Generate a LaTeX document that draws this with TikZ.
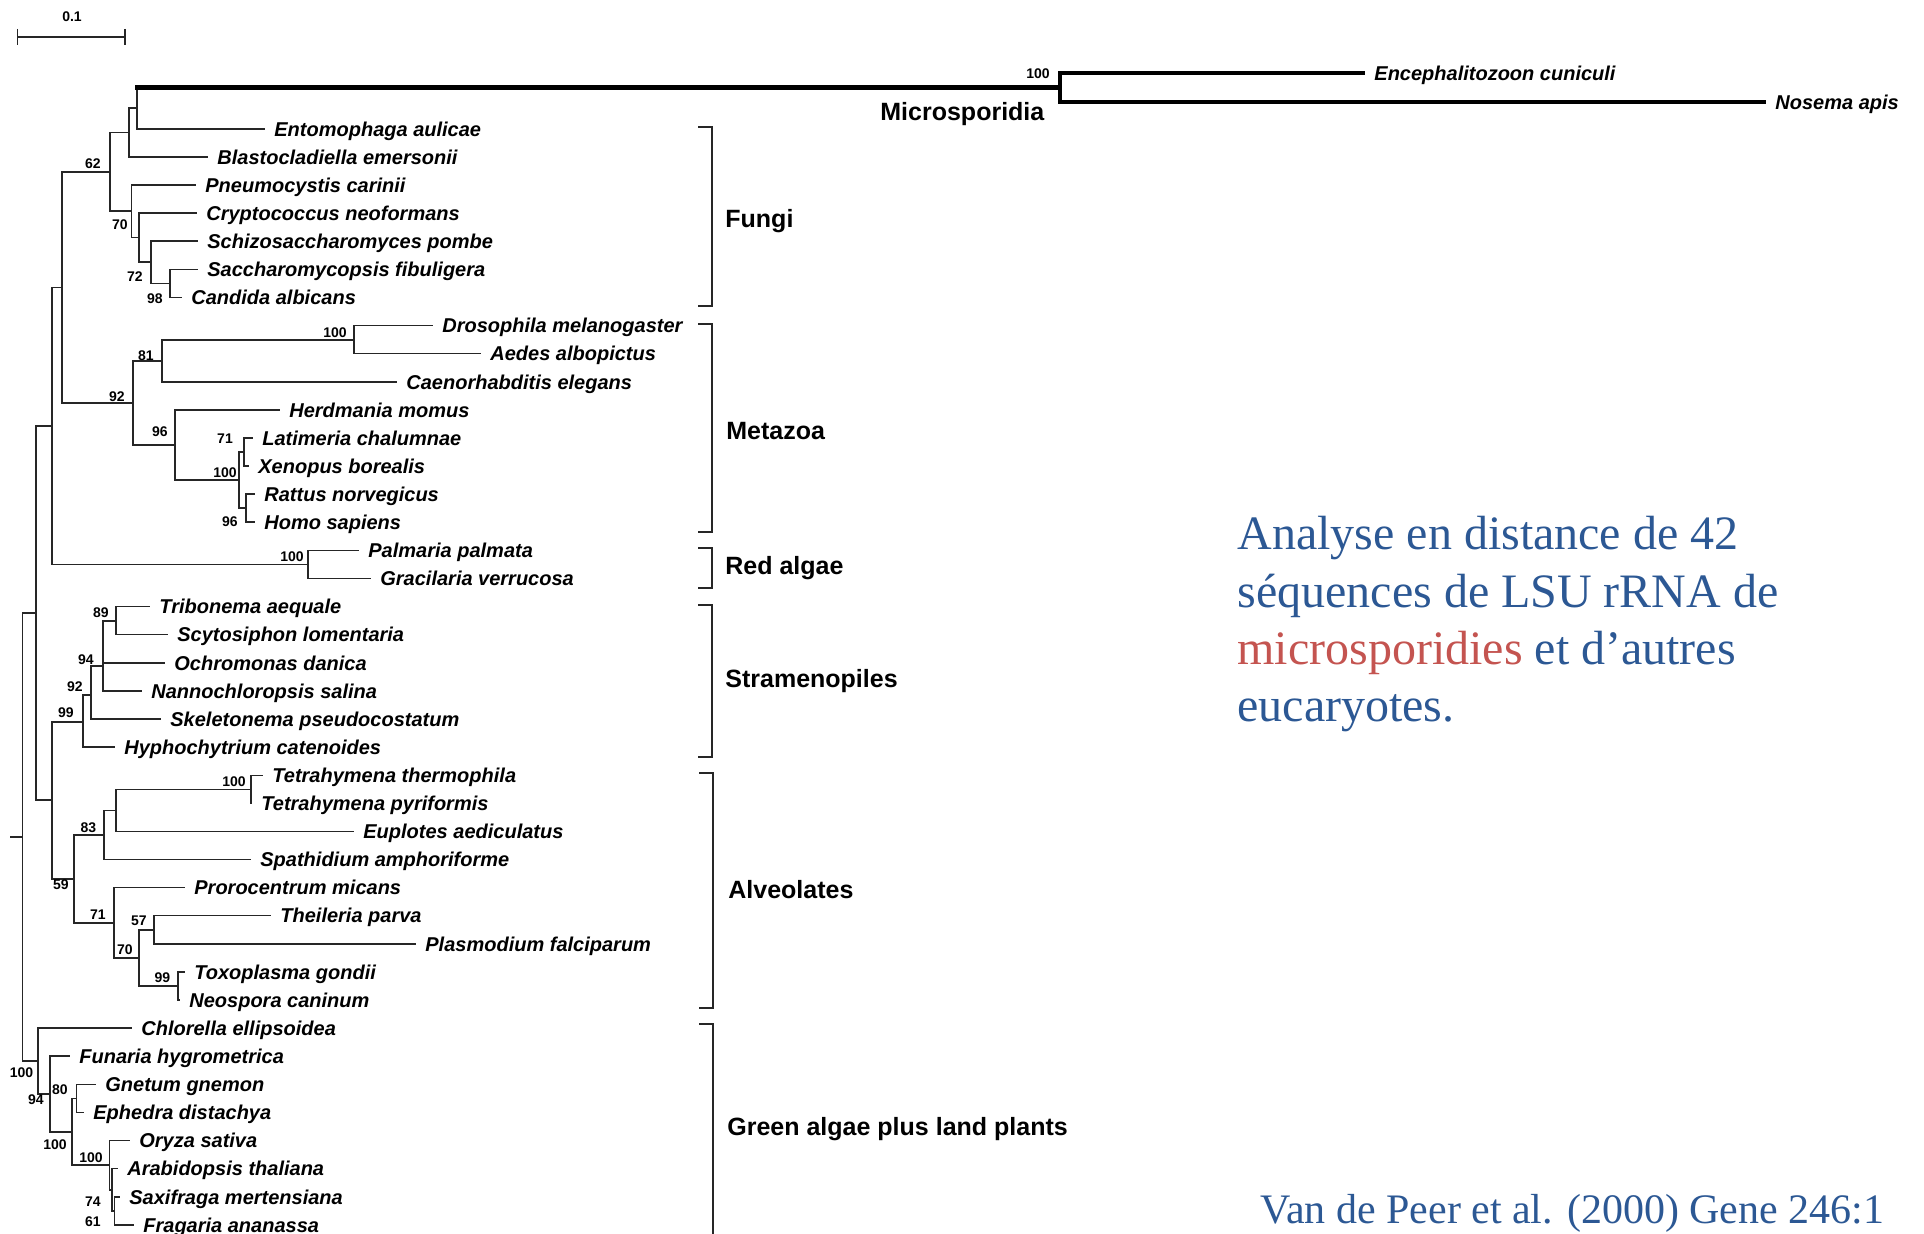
\documentclass[tikz,border=0pt]{standalone}
\usepackage{fontspec}
\setmainfont{Liberation Serif}
\newfontfamily\sansf{Liberation Sans}
\definecolor{descblue}{RGB}{44,88,148}
\definecolor{descred}{RGB}{196,84,80}

\begin{document}
\begin{tikzpicture}[x=0.5pt,y=-0.5pt,
  branch/.style={line width=0.7pt, black!85},
  heavy/.style={line width=2.2pt, black},
  leaf/.style={anchor=west, inner xsep=4.5pt, inner ysep=0pt, text height=7.2pt, text depth=0pt,
    font=\sansf\bfseries\itshape\fontsize{10}{12}\selectfont},
  sup/.style={inner sep=0pt, font=\sansf\bfseries\fontsize{7}{8}\selectfont},
  grp/.style={anchor=west, inner sep=0pt, text height=9pt, text depth=0pt,
    font=\sansf\bfseries\fontsize{12.5}{14}\selectfont},
  brk/.style={line width=1.2pt, black!85},
  desc/.style={anchor=base west, inner sep=0pt, text=descblue, font=\fontsize{24}{28}\selectfont},
]
\useasboundingbox (0,0) rectangle (1924,1234);
\clip (0,0) rectangle (1924,1234);

% ---------- scale bar ----------
\draw[branch] (17.5,37) -- (125,37);
\draw[branch] (17.5,29) -- (17.5,45);
\draw[branch] (125,29) -- (125,45);
\node[sup] (scalelab) at (72,17) {0.1};

% ---------- internal nodes ----------
\coordinate (MS)  at (1060,87.5);
\coordinate (N1)  at (137,108);
\coordinate (N2)  at (129,132.5);
\coordinate (F)   at (110,172);
\coordinate (P)   at (131.5,211);
\coordinate (C)   at (139,237.5);
\coordinate (S)   at (151,262);
\coordinate (Sc)  at (170,283.5);
\coordinate (D)   at (354,340);
\coordinate (M81) at (162,361);
\coordinate (LX)  at (244,452);
\coordinate (RH)  at (246,508);
\coordinate (V)   at (239,480);
\coordinate (M96) at (175,445);
\coordinate (MZ)  at (133,403);
\coordinate (FM)  at (62,287.5);
\coordinate (R)   at (308,564.5);
\coordinate (FMR) at (52,426);
\coordinate (TS)  at (116,621);
\coordinate (N94) at (103,666);
\coordinate (N92) at (91,695);
\coordinate (N99) at (83,722);
\coordinate (T)   at (251,789.4);
\coordinate (TE)  at (116,810.5);
\coordinate (C83) at (104,835);
\coordinate (TP)  at (154,930);
\coordinate (TN)  at (178,986);
\coordinate (A70) at (139,958);
\coordinate (A71) at (114,923);
\coordinate (AL)  at (74,879);
\coordinate (SA)  at (52,800);
\coordinate (A)   at (36,613);
\coordinate (SF)  at (114.5,1211);
\coordinate (EU)  at (112,1190);
\coordinate (AN)  at (109.5,1165);
\coordinate (GE)  at (76.5,1098.5);
\coordinate (SP)  at (72,1132);
\coordinate (L94) at (50,1094);
\coordinate (G)   at (38,1061);
\coordinate (B)   at (22.5,837);
\coordinate (rt)  at (10,837);

% ---------- leaves ----------
\node[leaf] (ence)    at (1365,73)    {Encephalitozoon cuniculi};
\node[leaf] (nosema)  at (1766,102)   {Nosema apis};
\node[leaf] (ento)    at (265,129)    {Entomophaga aulicae};
\node[leaf] (blasto)  at (208,157)    {Blastocladiella emersonii};
\node[leaf] (pneumo)  at (196,185)    {Pneumocystis carinii};
\node[leaf] (crypto)  at (197,213)    {Cryptococcus neoformans};
\node[leaf] (schizo)  at (198,241)    {Schizosaccharomyces pombe};
\node[leaf] (sacch)   at (198,269.5)  {Saccharomycopsis fibuligera};
\node[leaf] (candida) at (182,297.6)  {Candida albicans};
\node[leaf] (dros)    at (433,325.7)  {Drosophila melanogaster};
\node[leaf] (aedes)   at (481,353.8)  {Aedes albopictus};
\node[leaf] (caeno)   at (397,381.9)  {Caenorhabditis elegans};
\node[leaf] (herd)    at (280,410)    {Herdmania momus};
\node[leaf] (lati)    at (253,438)    {Latimeria chalumnae};
\node[leaf] (xeno)    at (249,466)    {Xenopus borealis};
\node[leaf] (rattus)  at (255,494)    {Rattus norvegicus};
\node[leaf] (homo)    at (255,522)    {Homo sapiens};
\node[leaf] (palm)    at (359,550.5)  {Palmaria palmata};
\node[leaf] (grac)    at (371,578.6)  {Gracilaria verrucosa};
\node[leaf] (trib)    at (150,606.7)  {Tribonema aequale};
\node[leaf] (scyto)   at (168,634.8)  {Scytosiphon lomentaria};
\node[leaf] (ochro)   at (165,662.9)  {Ochromonas danica};
\node[leaf] (nanno)   at (142,691)    {Nannochloropsis salina};
\node[leaf] (skel)    at (161,719)    {Skeletonema pseudocostatum};
\node[leaf] (hypho)   at (115,747)    {Hyphochytrium catenoides};
\node[leaf] (tthermo) at (263,775.3)  {Tetrahymena thermophila};
\node[leaf] (tpyri)   at (252,803.4)  {Tetrahymena pyriformis};
\node[leaf] (euplo)   at (354,831.5)  {Euplotes aediculatus};
\node[leaf] (spath)   at (251,859.6)  {Spathidium amphoriforme};
\node[leaf] (proro)   at (185,887.7)  {Prorocentrum micans};
\node[leaf] (theil)   at (271,915.8)  {Theileria parva};
\node[leaf] (plasmo)  at (416,943.9)  {Plasmodium falciparum};
\node[leaf] (toxo)    at (185,972)    {Toxoplasma gondii};
\node[leaf] (neo)     at (180,1000)   {Neospora caninum};
\node[leaf] (chlor)   at (132,1028)   {Chlorella ellipsoidea};
\node[leaf] (funar)   at (70,1056)    {Funaria hygrometrica};
\node[leaf] (gnet)    at (96,1084.4)  {Gnetum gnemon};
\node[leaf] (ephe)    at (84,1112.5)  {Ephedra distachya};
\node[leaf] (oryza)   at (130,1140.6) {Oryza sativa};
\node[leaf] (arab)    at (118,1168.7) {Arabidopsis thaliana};
\node[leaf] (saxi)    at (120,1196.8) {Saxifraga mertensiana};
\node[leaf] (fraga)   at (134,1224.9) {Fragaria ananassa};

% ---------- branches ----------
\draw[branch] (rt) -- (B);
\draw[branch] (B) |- (A);   \draw[branch] (B) |- (G);
\draw[branch] (A) |- (FMR); \draw[branch] (A) |- (SA);
\draw[branch] (FMR) |- (FM); \draw[branch] (FMR) |- (R);
\draw[branch] (FM) |- (F);  \draw[branch] (FM) |- (MZ);
% fungi and microsporidia
\draw[branch] (F) |- (N2);  \draw[branch] (F) |- (P);
\draw[branch] (N2) |- (N1); \draw[branch] (N2) |- (blasto.west);
\draw[branch] (N1) -- (N1|-MS);
\draw[heavy, line cap=rect] (N1|-MS) -- (MS);
\draw[branch] (N1) |- (ento.west);
\draw[heavy] (MS) |- (ence.west);
\draw[heavy] (MS) |- (nosema.west);
\draw[branch] (P) |- (pneumo.west); \draw[branch] (P) |- (C);
\draw[branch] (C) |- (crypto.west); \draw[branch] (C) |- (S);
\draw[branch] (S) |- (schizo.west); \draw[branch] (S) |- (Sc);
\draw[branch] (Sc) |- (sacch.west); \draw[branch] (Sc) |- (candida.west);
% metazoa
\draw[branch] (MZ) |- (M81); \draw[branch] (MZ) |- (M96);
\draw[branch] (M81) |- (D);  \draw[branch] (M81) |- (caeno.west);
\draw[branch] (D) |- (dros.west); \draw[branch] (D) |- (aedes.west);
\draw[branch] (M96) |- (herd.west); \draw[branch] (M96) |- (V);
\draw[branch] (V) |- (LX); \draw[branch] (V) |- (RH);
\draw[branch] (LX) |- (lati.west); \draw[branch] (LX) |- (xeno.west);
\draw[branch] (RH) |- (rattus.west); \draw[branch] (RH) |- (homo.west);
% red algae
\draw[branch] (R) |- (palm.west); \draw[branch] (R) |- (grac.west);
% stramenopiles
\draw[branch] (SA) |- (N99); \draw[branch] (SA) |- (AL);
\draw[branch] (N99) |- (N92); \draw[branch] (N99) |- (hypho.west);
\draw[branch] (N92) |- (N94); \draw[branch] (N92) |- (skel.west);
\draw[branch] (N94) |- (TS); \draw[branch] (N94) |- (ochro.west); \draw[branch] (N94) |- (nanno.west);
\draw[branch] (TS) |- (trib.west); \draw[branch] (TS) |- (scyto.west);
% alveolates
\draw[branch] (AL) |- (C83); \draw[branch] (AL) |- (A71);
\draw[branch] (C83) |- (TE); \draw[branch] (C83) |- (spath.west);
\draw[branch] (TE) |- (T);   \draw[branch] (TE) |- (euplo.west);
\draw[branch] (T) |- (tthermo.west); \draw[branch] (T) |- (tpyri.west);
\draw[branch] (A71) |- (proro.west); \draw[branch] (A71) |- (A70);
\draw[branch] (A70) |- (TP); \draw[branch] (A70) |- (TN);
\draw[branch] (TP) |- (theil.west); \draw[branch] (TP) |- (plasmo.west);
\draw[branch] (TN) |- (toxo.west); \draw[branch] (TN) |- (neo.west);
% green algae and land plants
\draw[branch] (G) |- (chlor.west); \draw[branch] (G) |- (L94);
\draw[branch] (L94) |- (funar.west); \draw[branch] (L94) |- (SP);
\draw[branch] (SP) |- (GE); \draw[branch] (SP) |- (AN);
\draw[branch] (GE) |- (gnet.west); \draw[branch] (GE) |- (ephe.west);
\draw[branch] (AN) |- (oryza.west); \draw[branch] (AN) |- (EU);
\draw[branch] (EU) |- (arab.west); \draw[branch] (EU) |- (SF);
\draw[branch] (SF) |- (saxi.west); \draw[branch] (SF) |- (fraga.west);

% ---------- bootstrap values ----------
\node[sup] (bMS)  at (1038,74)  {100};
\node[sup] (bF)   at (93,164)   {62};
\node[sup] (bP)   at (120,225)  {70};
\node[sup] (bS)   at (135,277)  {72};
\node[sup] (bSc)  at (155,299)  {98};
\node[sup] (bD)   at (335,333)  {100};
\node[sup] (bM81) at (146,356)  {81};
\node[sup] (bLX)  at (225,439)  {71};
\node[sup] (bRH)  at (230,522)  {96};
\node[sup] (bV)   at (225,473)  {100};
\node[sup] (bM96) at (160,432)  {96};
\node[sup] (bMZ)  at (117,397)  {92};
\node[sup] (bR)   at (292,557)  {100};
\node[sup] (bTS)  at (101,613)  {89};
\node[sup] (bN94) at (86,660)   {94};
\node[sup] (bN92) at (75,687)   {92};
\node[sup] (bN99) at (66,713)   {99};
\node[sup] (bT)   at (234,782)  {100};
\node[sup] (bC83) at (88.5,828) {83};
\node[sup] (bAL)  at (61,885)   {59};
\node[sup] (bA71) at (98,915)   {71};
\node[sup] (bTP)  at (139,921)  {57};
\node[sup] (bA70) at (125,950)  {70};
\node[sup] (bTN)  at (162.5,978) {99};
\node[sup] (bG)   at (21.5,1073) {100};
\node[sup] (bL94) at (36,1100)  {94};
\node[sup] (bGE)  at (60,1090)  {80};
\node[sup] (bSP)  at (55,1145)  {100};
\node[sup] (bAN)  at (91,1158)  {100};
\node[sup] (bEU)  at (93,1202)  {74};
\node[sup] (bSF)  at (93,1222)  {61};

% ---------- group brackets and labels ----------
\draw[brk] (698,127) -- (712,127) -- (712,306) -- (698,306);
\draw[brk] (698,324) -- (712,324) -- (712,532) -- (698,532);
\draw[brk] (698,548) -- (712,548) -- (712,588) -- (698,588);
\draw[brk] (698,605) -- (712,605) -- (712,757) -- (698,757);
\draw[brk] (699,773) -- (713,773) -- (713,1008) -- (699,1008);
\draw[brk] (699,1024) -- (713,1024) -- (713,1240);

\node[grp] (gmicro) at (880,112)  {Microsporidia};
\node[grp] (gfungi) at (725,219)  {Fungi};
\node[grp] (gmeta)  at (726,431)  {Metazoa};
\node[grp] (gred)   at (725,566)  {Red algae};
\node[grp] (gstram) at (725,679)  {Stramenopiles};
\node[grp] (galveo) at (728,890)  {Alveolates};
\node[grp] (ggreen) at (727,1127) {Green algae plus land plants};

% ---------- caption ----------
\node[desc] (desc1) at (1237,550) {Analyse en distance de 42};
\node[desc] (desc2) at (1237,608) {séquences de LSU rRNA de};
\node[desc] (desc3) at (1237,665) {{\color{descred}microsporidies} et d’autres};
\node[desc] (desc4) at (1237,722) {eucaryotes.};
\node[desc, font=\fontsize{21}{25}\selectfont] (cite) at (1260,1223) {Van de Peer et al. (2000) Gene 246:1};
\end{tikzpicture}
\end{document}
